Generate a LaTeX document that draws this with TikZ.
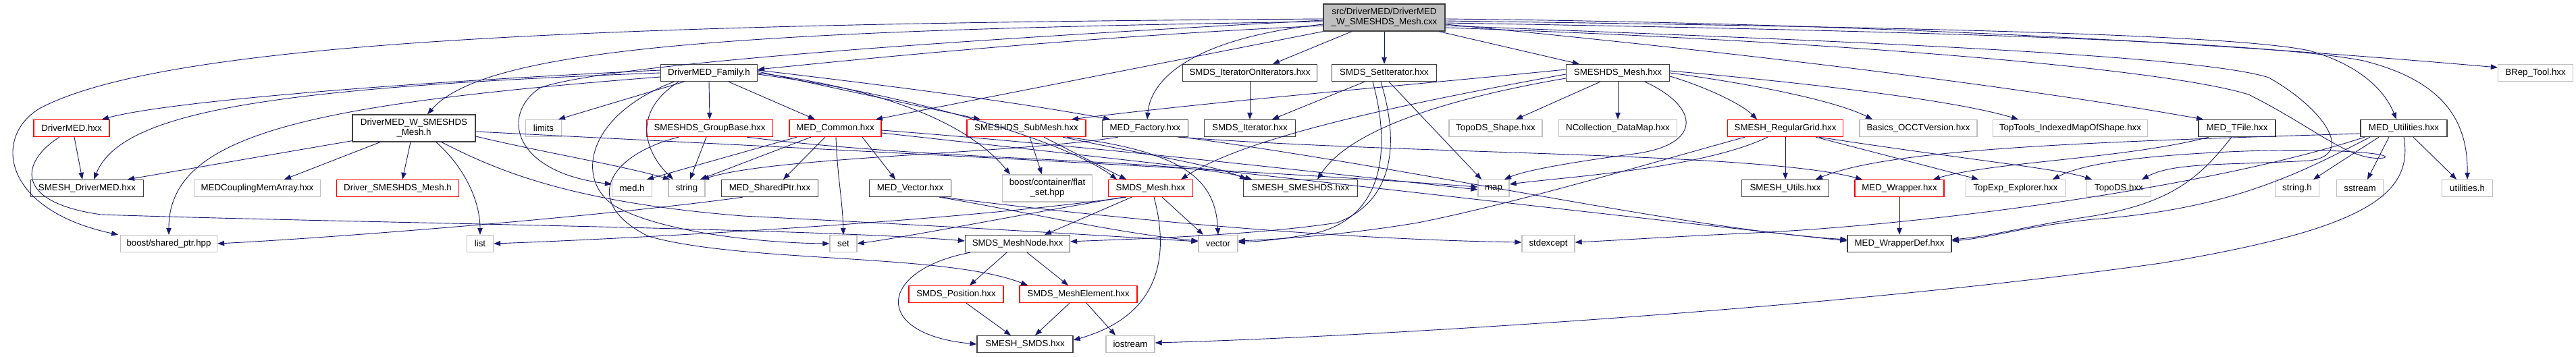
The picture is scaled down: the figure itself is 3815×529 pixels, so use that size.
\documentclass[tikz,border=0pt]{standalone}
\usepackage{fontspec}
\setmainfont{Liberation Sans}
\usetikzlibrary{arrows.meta}
\definecolor{edgec}{HTML}{191970}
\definecolor{dgray}{HTML}{404040}
\definecolor{lgray}{HTML}{BFBFBF}
\definecolor{rbord}{HTML}{FF0000}
\begin{document}
\begin{tikzpicture}[x=1pt,y=-1pt,
  box/.style={rectangle, line width=1.3pt, inner sep=0pt, minimum height=25pt, align=center,
     font=\fontsize{13.3}{15}\selectfont, fill=white},
  nb/.style={box, draw=dgray},
  rb/.style={box, draw=rbord},
  gb/.style={box, draw=lgray},
  rootb/.style={box, draw=dgray, fill=lgray, minimum height=40pt},
  edg/.style={draw=edgec, line width=0.9pt, -{Triangle[length=10pt,width=7.5pt]}}
]
\useasboundingbox (0,0) rectangle (3815,529);
% row 0
\node[rootb, minimum width=180pt] (root) at (2050,26) {src/DriverMED/DriverMED\\\_W\_SMESHDS\_Mesh.cxx};
% row 1
\node[nb, minimum width=143pt] (fam) at (1050,108) {DriverMED\_Family.h};
\node[nb, minimum width=199pt] (ioi) at (1851,108) {SMDS\_IteratorOnIterators.hxx};
\node[nb, minimum width=155pt] (setit) at (2050,108) {SMDS\_SetIterator.hxx};
\node[nb, minimum width=153pt] (dsmesh) at (2396,108) {SMESHDS\_Mesh.hxx};
\node[gb, minimum width=111pt] (brep) at (3755,108) {BRep\_Tool.hxx};
% row 2
\node[rb, minimum width=112pt] (dmed) at (106,190) {DriverMED.hxx};
\node[nb, minimum width=182pt, minimum height=40pt] (wsm) at (613,190) {DriverMED\_W\_SMESHDS\\\_Mesh.h};
\node[gb, minimum width=53pt] (limits) at (805,190) {limits};
\node[rb, minimum width=187pt] (gbase) at (1051,190) {SMESHDS\_GroupBase.hxx};
\node[rb, minimum width=136pt] (common) at (1237,190) {MED\_Common.hxx};
\node[rb, minimum width=176pt] (submesh) at (1520,190) {SMESHDS\_SubMesh.hxx};
\node[nb, minimum width=127pt] (factory) at (1696,190) {MED\_Factory.hxx};
\node[nb, minimum width=135pt] (iter) at (1851,190) {SMDS\_Iterator.hxx};
\node[gb, minimum width=138pt] (tshape) at (2215,190) {TopoDS\_Shape.hxx};
\node[gb, minimum width=175pt] (ncoll) at (2396,190) {NCollection\_DataMap.hxx};
\node[rb, minimum width=171pt] (rgrid) at (2644,190) {SMESH\_RegularGrid.hxx};
\node[gb, minimum width=174pt] (occt) at (2841,190) {Basics\_OCCTVersion.hxx};
\node[gb, minimum width=229pt] (ttools) at (3066,190) {TopTools\_IndexedMapOfShape.hxx};
\node[nb, minimum width=114pt] (tfile) at (3313,190) {MED\_TFile.hxx};
\node[nb, minimum width=128pt] (util) at (3560,190) {MED\_Utilities.hxx};
% row 3
\node[nb, minimum width=167pt] (sdmed) at (129,279) {SMESH\_DriverMED.hxx};
\node[gb, minimum width=187pt] (memarr) at (381,279) {MEDCouplingMemArray.hxx};
\node[rb, minimum width=181pt] (dsmeshh) at (589,279) {Driver\_SMESHDS\_Mesh.h};
\node[gb, minimum width=59pt] (medh) at (936,279) {med.h};
\node[gb, minimum width=54pt] (string) at (1017,279) {string};
\node[nb, minimum width=143pt] (sptr) at (1140,279) {MED\_SharedPtr.hxx};
\node[nb, minimum width=121pt] (vec) at (1348,279) {MED\_Vector.hxx};
\node[gb, minimum width=133pt, minimum height=40pt] (flat) at (1551,279) {boost/container/flat\\\_set.hpp};
\node[rb, minimum width=125pt] (smesh) at (1704,279) {SMDS\_Mesh.hxx};
\node[nb, minimum width=169pt] (ssmeshds) at (1926,279) {SMESH\_SMESHDS.hxx};
\node[gb, minimum width=46pt] (map) at (2212,279) {map};
\node[nb, minimum width=129pt] (sutils) at (2644,279) {SMESH\_Utils.hxx};
\node[rb, minimum width=132pt] (wrapper) at (2813,279) {MED\_Wrapper.hxx};
\node[gb, minimum width=147pt] (texp) at (2985,279) {TopExp\_Explorer.hxx};
\node[gb, minimum width=95pt] (topods) at (3138,279) {TopoDS.hxx};
\node[gb, minimum width=65pt] (strh) at (3402,279) {string.h};
\node[gb, minimum width=69pt] (sstream) at (3495,279) {sstream};
\node[gb, minimum width=75pt] (utilh) at (3654,279) {utilities.h};
% row 4
\node[gb, minimum width=143pt] (bsptr) at (250,361) {boost/shared\_ptr.hpp};
\node[gb, minimum width=39pt] (list) at (711,361) {list};
\node[gb, minimum width=40pt] (set) at (1249,361) {set};
\node[nb, minimum width=155pt] (mnode) at (1507,361) {SMDS\_MeshNode.hxx};
\node[gb, minimum width=58pt] (vector) at (1804,361) {vector};
\node[gb, minimum width=78pt] (stdexc) at (2293,361) {stdexcept};
\node[nb, minimum width=154pt] (wdef) at (2813,361) {MED\_WrapperDef.hxx};
% row 5
\node[rb, minimum width=140pt] (pos) at (1416,436) {SMDS\_Position.hxx};
\node[rb, minimum width=174pt] (melem) at (1597,436) {SMDS\_MeshElement.hxx};
% row 6
\node[nb, minimum width=142pt] (ssmds) at (1518,510) {SMESH\_SMDS.hxx};
\node[gb, minimum width=72pt] (iostream) at (1674,510) {iostream};

% ---------- edges from root
\draw[edg] ([yshift=-12pt]root.west) .. controls (1600,55) and (1300,85) .. ([yshift=5pt]fam.east);
\draw[edg] ([xshift=-48pt]root.south) -- ([xshift=34pt]ioi.north);
\draw[edg] (root.south) -- (setit.north);
\draw[edg] ([xshift=81pt]root.south) -- ([xshift=-57pt]dsmesh.north);
\draw[edg] ([yshift=-2pt]root.east) .. controls (2800,35) and (3300,65) .. ([yshift=8pt]brep.west);
\draw[edg] ([yshift=-5pt]root.east) .. controls (2800,40) and (3300,50) .. (3420,75) .. controls (3490,95) and (3530,130) .. ([xshift=-11pt]util.north);
\draw[edg] ([yshift=-8pt]root.east) .. controls (2800,45) and (3350,60) .. (3500,90) .. controls (3620,120) and (3655,180) .. (utilh.north);
\draw[edg] ([yshift=-10pt]root.east) .. controls (2600,80) and (3000,130) .. ([xshift=-50pt]tfile.north);
\draw[edg] ([yshift=-12pt]root.east) .. controls (2700,60) and (3250,80) .. (3360,115) .. controls (3440,160) and (3490,230) .. (3420,238) .. controls (3300,245) and (3220,240) .. ([xshift=34pt]topods.north);
\draw[edg] ([yshift=-15pt]root.east) .. controls (2700,60) and (3200,100) .. (3330,140) .. controls (3430,190) and (3480,240) .. (3530,234) .. controls (3550,228) and (3450,218) .. (3300,225) .. controls (3150,232) and (3080,245) .. ([xshift=55pt]texp.north);
\draw[edg] ([yshift=-6pt]root.west) .. controls (1100,45) and (720,70) .. ([xshift=20pt]wsm.north);
\draw[edg] ([yshift=-2pt]root.west) .. controls (900,35) and (250,60) .. (60,160) .. controls (-10,200) and (0,310) .. ([xshift=-75pt]bsptr.north);
\draw[edg] (root.south west) -- ([xshift=60pt]common.north);
\draw[edg] ([yshift=-10pt]root.west) .. controls (1780,55) and (1705,110) .. ([xshift=3pt]factory.north);
\draw[edg] ([yshift=-4pt]root.west) .. controls (1400,60) and (900,95) .. (800,130) .. controls (740,170) and (760,255) .. ([yshift=6pt]medh.west);

% ---------- DriverMED_Family
\draw[edg] ([yshift=4pt]fam.west) .. controls (600,122) and (250,150) .. ([xshift=45pt]dmed.north);
\draw[edg] (fam.west) .. controls (400,130) and (180,165) .. ([xshift=10pt]sdmed.north);
\draw[edg] ([yshift=-6pt]fam.west) .. controls (450,155) and (250,200) .. (bsptr.north);
\draw[edg] ([xshift=-37pt]fam.south) -- ([xshift=22pt]limits.north);
\draw[edg] (fam.south) -- (gbase.north);
\draw[edg] ([xshift=29pt]fam.south) -- ([xshift=-30pt]common.north);
\draw[edg] ([xshift=-45pt]fam.south) .. controls (930,170) and (960,230) .. ([xshift=-20pt]string.north);
\draw[edg] ([xshift=-52pt]fam.south) .. controls (870,170) and (850,265) .. (910,305) .. controls (980,345) and (1130,360) .. (set.west);
\draw[edg] ([yshift=4pt]fam.east) .. controls (1300,125) and (1500,150) .. ([xshift=-52pt]factory.north);
\draw[edg] ([yshift=2pt]fam.east) -- ([xshift=-68pt]submesh.north);
\draw[edg] (fam.east) .. controls (1330,135) and (1440,190) .. ([xshift=-55pt]flat.north);
\draw[edg] ([yshift=-2pt]fam.east) .. controls (1350,140) and (1580,210) .. ([xshift=-50pt]smesh.north);

% ---------- GroupBase
\draw[edg] ([xshift=-5pt]gbase.south) -- ([xshift=5pt]string.north);
\draw[edg] ([xshift=-46pt]gbase.south) .. controls (900,230) and (860,300) .. (960,350) .. controls (1100,390) and (1400,375) .. ([xshift=-75pt]melem.north);
\draw[edg] ([xshift=55pt]gbase.south) .. controls (1400,240) and (1750,235) .. ([xshift=-72pt]ssmeshds.north);

% ---------- MED_Common
\draw[edg] ([xshift=-57pt]common.south) -- ([xshift=22pt]medh.north);
\draw[edg] ([xshift=-36pt]common.south) -- ([xshift=20pt]string.north);
\draw[edg] ([xshift=-15pt]common.south) -- ([xshift=20pt]sptr.north);
\draw[edg] ([xshift=1pt]common.south) .. controls (1240,260) and (1248,300) .. (set.north);
\draw[edg] ([xshift=40pt]common.south) -- ([xshift=-22pt]vec.north);
\draw[edg] ([yshift=-3pt]common.east) .. controls (1600,215) and (1950,255) .. ([yshift=-2pt]map.west);
\draw[edg] ([yshift=-7pt]common.east) .. controls (1700,240) and (2400,320) .. ([yshift=4pt]wdef.west);

% ---------- SubMesh
\draw[edg] ([xshift=5pt]submesh.south) -- ([xshift=-8pt]flat.north);
\draw[edg] ([xshift=26pt]submesh.south) -- ([xshift=-36pt]smesh.north);
\draw[edg] ([xshift=54pt]submesh.south) .. controls (1700,230) and (1800,245) .. ([xshift=-80pt]ssmeshds.north);
\draw[edg] ([xshift=60pt]submesh.south) .. controls (1760,225) and (1800,270) .. (vector.north);

% ---------- MED_Factory
\draw[edg] ([xshift=-40pt]factory.south) .. controls (1500,228) and (1150,232) .. ([xshift=23pt]string.north);
\draw[edg] ([xshift=48pt]factory.south) .. controls (2100,230) and (2600,225) .. ([xshift=-55pt]wrapper.north);
\draw[edg] ([xshift=55pt]factory.south) .. controls (2100,250) and (2500,340) .. ([yshift=6pt]wdef.west);

% ---------- iterators
\draw[edg] (ioi.south) -- (iter.north);
\draw[edg] ([xshift=-29pt]setit.south) -- ([xshift=33pt]iter.north);
\draw[edg] ([xshift=7pt]setit.south) -- ([xshift=-18pt]map.north);
\draw[edg] ([xshift=-17pt]setit.south) .. controls (2060,220) and (2050,320) .. (1950,345) .. controls (1900,355) and (1860,358) .. ([yshift=2pt]vector.east);
\draw[edg] ([xshift=-5pt]setit.south) .. controls (2075,220) and (2060,300) .. (1980,330) .. controls (1850,350) and (1650,355) .. ([yshift=3pt]mnode.east);

% ---------- SMESHDS_Mesh
\draw[edg] ([xshift=-26pt]dsmesh.south) -- ([xshift=30pt]tshape.north);
\draw[edg] (dsmesh.south) -- (ncoll.north);
\draw[edg] ([yshift=5pt]dsmesh.west) .. controls (2100,125) and (1800,150) .. ([xshift=67pt]submesh.north);
\draw[edg] ([yshift=-2pt]dsmesh.west) .. controls (2100,150) and (1850,200) .. ([xshift=45pt]smesh.north);
\draw[edg] ([yshift=-8pt]dsmesh.west) .. controls (2150,145) and (2000,190) .. ([xshift=25pt]ssmeshds.north);
\draw[edg] ([xshift=40pt]dsmesh.south) .. controls (2520,160) and (2520,215) .. (2420,228) .. controls (2330,240) and (2260,252) .. ([xshift=16pt]map.north);
\draw[edg] ([yshift=-5pt]dsmesh.east) .. controls (2530,130) and (2580,155) .. ([xshift=-42pt]rgrid.north);
\draw[edg] (dsmesh.east) .. controls (2600,125) and (2720,150) .. ([xshift=-68pt]occt.north);
\draw[edg] ([yshift=3pt]dsmesh.east) .. controls (2700,125) and (2900,150) .. ([xshift=-77pt]ttools.north);

% ---------- RegularGrid
\draw[edg] (rgrid.south) -- (sutils.north);
\draw[edg] ([xshift=45pt]rgrid.south) -- ([xshift=-55pt]texp.north);
\draw[edg] ([xshift=50pt]rgrid.south) .. controls (2900,235) and (3050,250) .. ([xshift=-40pt]topods.north);
\draw[edg] ([xshift=-26pt]rgrid.south) .. controls (2520,250) and (2320,262) .. ([yshift=6pt]map.east);
\draw[edg] ([xshift=-60pt]rgrid.south) .. controls (2450,240) and (2250,300) .. (2100,330) .. controls (1980,350) and (1880,355) .. ([yshift=4pt]vector.east);

% ---------- MED_TFile
\draw[edg] ([xshift=-42pt]tfile.south) .. controls (3150,235) and (2950,240) .. ([xshift=50pt]wrapper.north);
\draw[edg] ([xshift=-8pt]tfile.south) .. controls (3260,260) and (3220,300) .. (3100,320) .. controls (3000,335) and (2950,350) .. ([yshift=6pt]wdef.east);

% ---------- MED_Utilities
\draw[edg] ([yshift=-8pt]util.west) .. controls (3100,210) and (2800,220) .. ([xshift=45pt]sutils.north);
\draw[edg] ([xshift=-37pt]util.south) -- ([xshift=24pt]strh.north);
\draw[edg] ([xshift=-22pt]util.south) -- ([xshift=11pt]sstream.north);
\draw[edg] ([xshift=14pt]util.south) -- ([xshift=-16pt]utilh.north);
\draw[edg] (util.south) .. controls (3575,290) and (3500,340) .. (3200,390) .. controls (2700,460) and (2000,500) .. ([yshift=2pt]iostream.east);
\draw[edg] ([xshift=-50pt]util.south) .. controls (3400,260) and (3300,310) .. (3100,325) .. controls (3000,335) and (2950,352) .. ([yshift=4pt]wdef.east);
\draw[edg] ([xshift=-58pt]util.south) .. controls (3300,270) and (2900,330) .. (2600,345) .. controls (2450,352) and (2380,357) .. ([yshift=2pt]stdexc.east);

\draw[edg] (wrapper.south) -- (wdef.north);

% ---------- MED_Vector, SharedPtr
\draw[edg] ([xshift=43pt]vec.south) .. controls (1500,310) and (1650,345) .. ([yshift=4pt]vector.west);
\draw[edg] ([xshift=47pt]vec.south) .. controls (1700,330) and (2000,355) .. ([yshift=2pt]stdexc.west);
\draw[edg] ([xshift=-40pt]sptr.south) .. controls (900,320) and (500,352) .. (bsptr.east);

% ---------- W_SMESHDS_Mesh.h
\draw[edg] ([yshift=2pt]wsm.south west) -- ([xshift=60pt]sdmed.north);
\draw[edg] ([xshift=-50pt]wsm.south) -- ([xshift=40pt]memarr.north);
\draw[edg] ([xshift=-5pt]wsm.south) -- ([xshift=7pt]dsmeshh.north);
\draw[edg] ([xshift=33pt]wsm.south) .. controls (690,250) and (711,300) .. (list.north);
\draw[edg] ([yshift=-12pt]wsm.east) .. controls (800,225) and (920,245) .. ([xshift=-25pt]string.north);
\draw[edg] ([yshift=-5pt]wsm.east) .. controls (1300,225) and (1900,255) .. ([yshift=2pt]map.west);
\draw[edg] ([xshift=41pt]wsm.south) .. controls (740,255) and (850,300) .. (1100,320) .. controls (1400,335) and (1650,350) .. ([yshift=3pt]vector.west);

% ---------- DriverMED.hxx
\draw[edg] ([xshift=4pt]dmed.south) -- ([xshift=-7pt]sdmed.north);
\draw[edg] ([xshift=-18pt]dmed.south) .. controls (30,240) and (20,300) .. (150,318) .. controls (500,330) and (1200,338) .. ([yshift=4pt]mnode.west);

% ---------- SMDS
\draw[edg] ([xshift=-28pt]smesh.south) -- ([xshift=40pt]mnode.north);
\draw[edg] ([xshift=17pt]smesh.south) -- ([xshift=-22pt]vector.north);
\draw[edg] ([xshift=-40pt]smesh.south) .. controls (1500,320) and (1350,350) .. (set.east);
\draw[edg] ([xshift=-36pt]smesh.south) .. controls (1400,330) and (900,355) .. (list.east);
\draw[edg] ([xshift=5pt]smesh.south) .. controls (1735,390) and (1710,470) .. ([yshift=6pt]ssmds.east);
\draw[edg] ([xshift=-16pt]mnode.south) -- ([xshift=20pt]pos.north);
\draw[edg] ([xshift=14pt]mnode.south) -- ([xshift=-15pt]melem.north);
\draw[edg] ([xshift=-70pt]mnode.south) .. controls (1300,400) and (1290,495) .. (ssmds.west);
\draw[edg] ([xshift=15pt]pos.south) -- ([xshift=-21pt]ssmds.north);
\draw[edg] ([xshift=-13pt]melem.south) -- ([xshift=15pt]ssmds.north);
\draw[edg] ([xshift=12pt]melem.south) -- ([xshift=-22pt]iostream.north);
\end{tikzpicture}
\end{document}
